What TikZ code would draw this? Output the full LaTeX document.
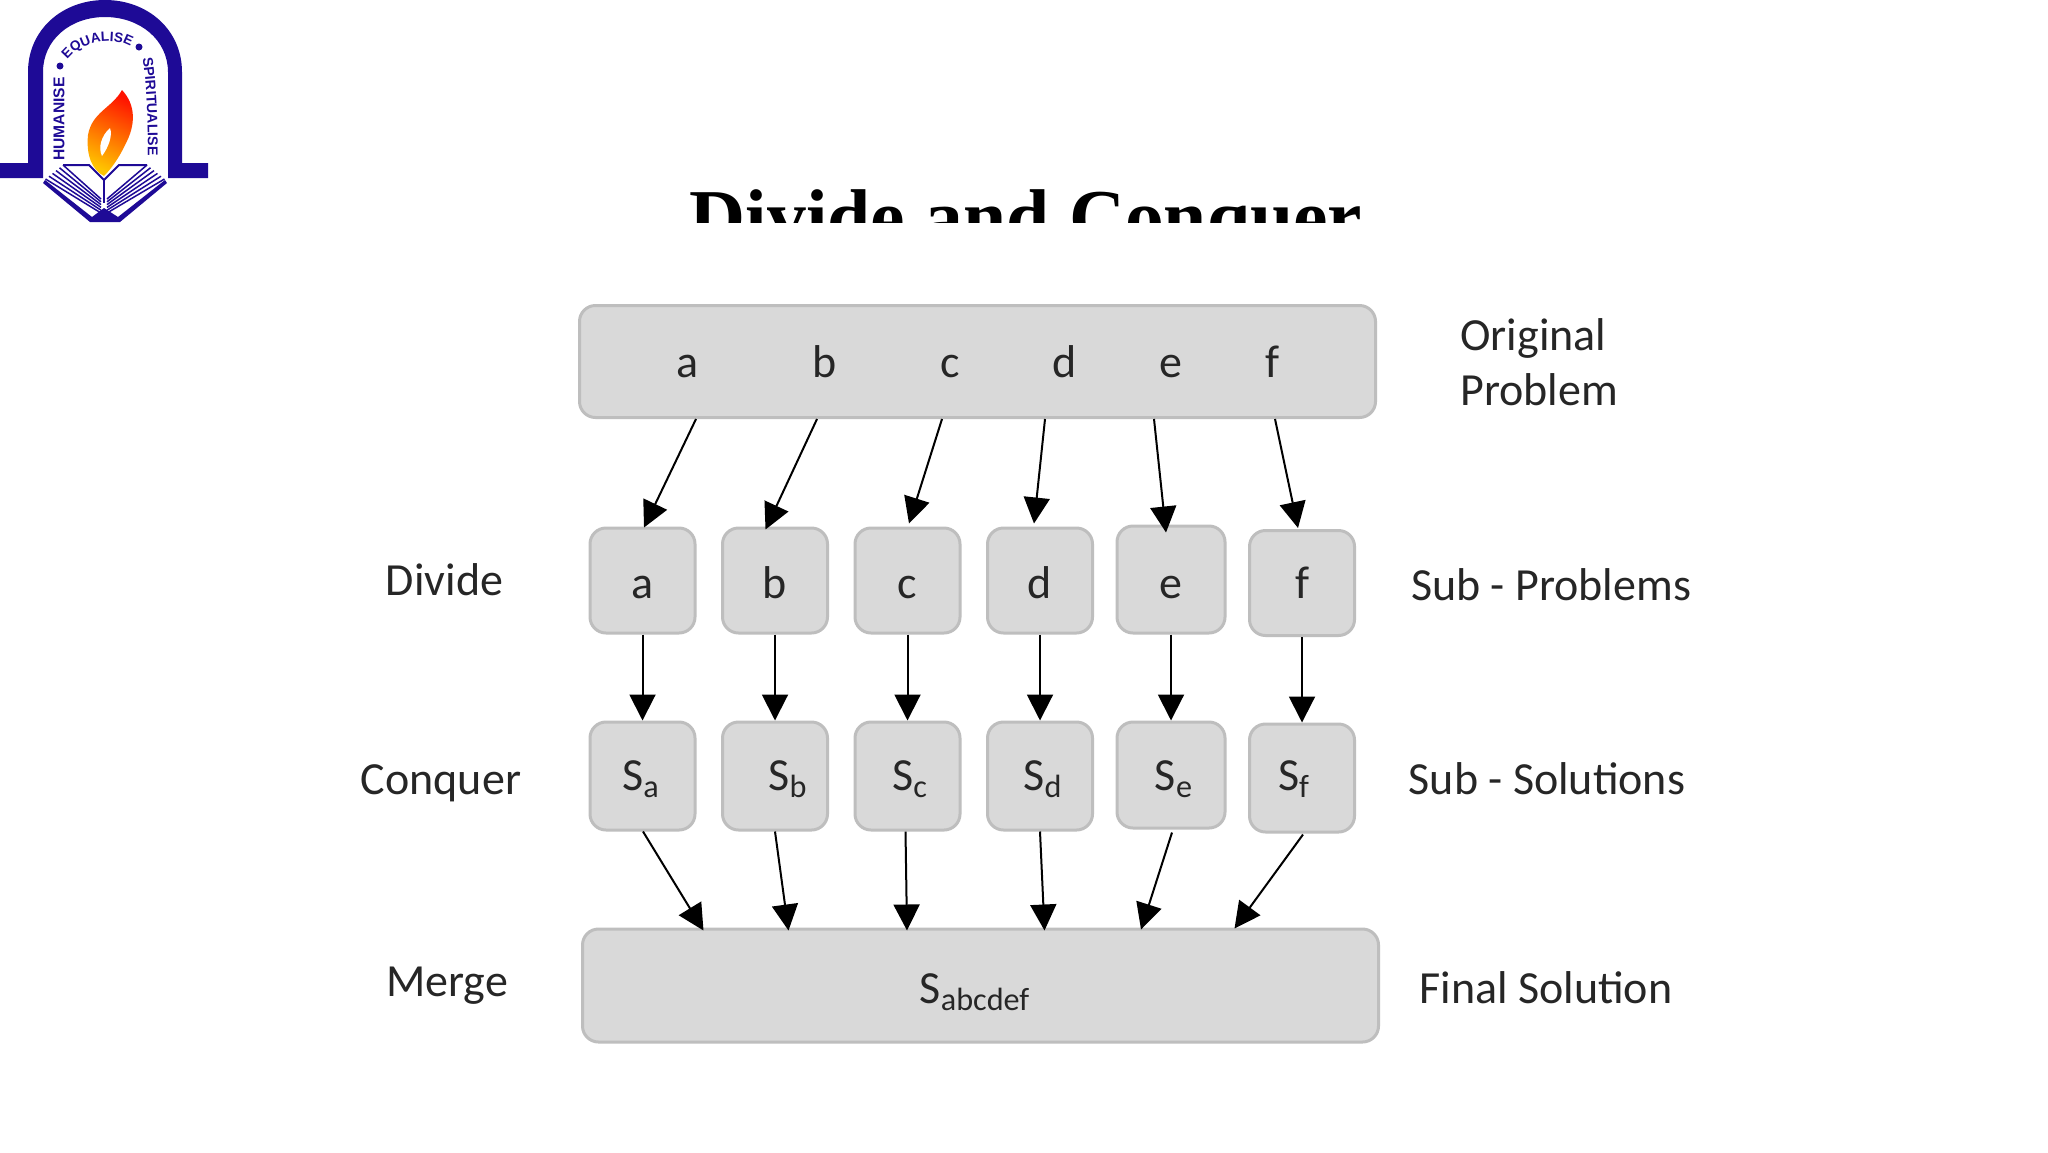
\documentclass[tikz,border=0pt]{standalone}
\usepackage{fontspec}
\setmainfont{Carlito}
\newfontfamily\titlefont{Liberation Serif}
\newfontfamily\logofont{Liberation Sans}
\usetikzlibrary{arrows.meta,calc,decorations.text}
\definecolor{boxfill}{HTML}{D9D9D9}
\definecolor{boxline}{HTML}{BEBEBE}
\definecolor{logoblue}{HTML}{1E0A96}
\tikzset{
  probbox/.style={draw=boxline,fill=boxfill,line width=1.5pt,rounded corners=8pt,inner sep=0pt},
  smallbox/.style={probbox,minimum width=52.5pt,minimum height=52.5pt},
  widebox/.style={probbox,minimum width=398pt,minimum height=56pt},
  letter/.style={font=\fontsize{23}{27}\selectfont,text=black!85,inner sep=0pt,anchor=base},
  caption/.style={font=\fontsize{23}{27}\selectfont,text=black!85,inner sep=0pt,anchor=base},
  conn/.style={draw=black,line width=1pt,-{Triangle[length=13pt,width=13pt]}},
  logoline/.style={draw=logoblue,line width=0.75pt}
}
\begin{document}
\begin{tikzpicture}[x=0.5pt,y=-0.5pt]
\useasboundingbox (0,0) rectangle (2048,1152);
\fill[white] (0,0) rectangle (2048,1152);

% logo
\fill[logoblue] (0,163) -- (28,163) -- (28,72) .. controls (28,30) and (62,0) .. (105,0)
  .. controls (148,0) and (182,30) .. (182,72) -- (182,163) -- (208,163) -- (208,178) -- (168,178)
  -- (168,72) .. controls (168,40) and (140,17) .. (105,17)
  .. controls (70,17) and (43,40) .. (43,72) -- (43,178) -- (0,178) -- cycle;
\node[rotate=90,inner sep=0pt,font=\logofont\bfseries\fontsize{7.8}{8}\selectfont,text=logoblue] (humanise) at (59,119) {HUMANISE};
\path[decorate,decoration={text along path,text align=center,
  text={|\logofont\bfseries\fontsize{6.8}{8}\selectfont\color{logoblue}|EQUALISE}}]
  (67,60) .. controls (78,44) and (110,34) .. (131,47);
\path[decorate,decoration={text along path,text align=center,
  text={|\logofont\bfseries\fontsize{7.1}{8}\selectfont\color{logoblue}|SPIRITUALISE}}]
  (142,56) .. controls (146,75) and (148,110) .. (148,158);
\fill[logoblue] (60,66) circle (3.5) (139,47) circle (3.5);
% flame
\shade[top color=red!85!orange,middle color=orange!85!red,bottom color=yellow!55!orange,shading angle=-25]
  (122,90) .. controls (136,105) and (136,125) .. (125,145)
  .. controls (118,160) and (110,170) .. (104,176)
  .. controls (92,170) and (86,155) .. (88,135)
  .. controls (92,112) and (112,108) .. (122,90) -- cycle;
\fill[white] (110,128) .. controls (113,136) and (108,148) .. (102,156)
  .. controls (98,148) and (101,136) .. (110,128) -- cycle;
% book
\draw[logoline,line width=1pt] (63,165) -- (89,165) -- (104,180) -- (119,165) -- (147,165);
\draw[logoline,line width=1pt] (104,180) -- (104,203);
\foreach \d in {0,3.5,7,10.5,14,17.5}{
  \draw[logoline] (63-\d,165+\d*0.8) -- (101,199+\d*0.8);
  \draw[logoline] (147+\d,165+\d*0.8) -- (107,199+\d*0.8);
}
\fill[logoblue] (43,183) -- (90,222) -- (120,222) -- (167,183) -- (165,180) -- (118,217) -- (104,208) -- (92,217) -- (45,180) -- cycle;

% title
\begin{scope}
\clip (600,150) rectangle (1450,222);
\node[inner sep=0pt,anchor=base,font=\titlefont\bfseries\fontsize{38.8}{44}\selectfont,text=black] (title) at (1026,243) {Divide and Conquer};
\end{scope}

% boxes
\node[widebox] (top) at (977.5,361.5) {};
\node[smallbox] (a1) at (642.5,580.5) {};
\node[smallbox] (b1) at (775,580.5) {};
\node[smallbox] (c1) at (907.5,580.5) {};
\node[smallbox] (d1) at (1040,580.5) {};
\node[smallbox,minimum width=54pt,minimum height=53.5pt] (e1) at (1171,579.5) {};
\node[smallbox] (f1) at (1302,583) {};
\node[smallbox,minimum height=54pt] (a2) at (642.5,776) {};
\node[smallbox,minimum height=54pt] (b2) at (775,776) {};
\node[smallbox,minimum height=54pt] (c2) at (907.5,776) {};
\node[smallbox,minimum height=54pt] (d2) at (1040,776) {};
\node[smallbox,minimum width=54pt,minimum height=53pt] (e2) at (1171,775) {};
\node[smallbox,minimum height=54pt] (f2) at (1302,778) {};
\node[widebox,minimum height=56.5pt] (bottom) at (980.5,985.5) {};

% letters
\foreach \n/\t/\x in {ta/a/688,tb/b/825,tc/c/950,td/d/1065,te/e/1171,tf/f/1272}
  \node[letter] (\n) at (\x,377) {\t};
\foreach \n/\t/\x in {la/a/643,lb/b/775,lc/c/907,ld/d/1040,le/e/1171,lf/f/1302}
  \node[letter] (\n) at (\x,598) {\t};
\foreach \n/\t/\x in {sa/a/641,sb/b/788,sc/c/910,sd/d/1043,se/e/1174,sf/f/1294}
  \node[letter] (\n) at (\x,790) {S\textsubscript{\t}};
\node[letter] (sall) at (975,1003) {S\textsubscript{abcdef}};

% captions
\node[caption,anchor=base west] (orig) at (1460,350) {Original};
\node[caption,anchor=base west] (prob) at (1460,405) {Problem};
\node[caption] (divide) at (444.5,595) {Divide};
\node[caption] (conquer) at (441,794) {Conquer};
\node[caption] (merge) at (447,996) {Merge};
\node[caption] (subp) at (1551,600) {Sub - Problems};
\node[caption] (subs) at (1547,794) {Sub - Solutions};
\node[caption] (final) at (1546,1003) {Final Solution};

% connectors
\draw[conn] ($(top.south)+(-281.5,0)$) -- ($(a1.north)+(1.5,1)$);
\draw[conn] ($(top.south)+(-160.5,0)$) -- ($(b1.north)+(-9.5,3)$);
\draw[conn] ($(top.south)+(-35.5,0)$) -- ($(c1.north)+(1.5,-3)$);
\draw[conn] ($(top.south)+(67.5,0)$) -- ($(d1.north)+(-6,-3)$);
\draw[conn] ($(top.south)+(176.5,0)$) -- ($(e1.north)+(-5,8)$);
\draw[conn] ($(top.south)+(297.5,0)$) -- ($(f1.north)+(-4,-1)$);
\foreach \n in {a,b,c,d,e,f}
  \draw[conn] (\n1.south) -- (\n1.south |- \n2.north);
\draw[conn] ($(a2.south)+(0.5,0)$) -- ($(bottom.north)+(-277,3)$);
\draw[conn] (b2.south) -- ($(bottom.north)+(-192,3)$);
\draw[conn] ($(c2.south)+(-2,0)$) -- ($(bottom.north)+(-73.5,3)$);
\draw[conn] (d2.south) -- ($(bottom.north)+(64,3)$);
\draw[conn] ($(e2.south)+(1,3)$) -- ($(bottom.north)+(160.5,2)$);
\draw[conn] ($(f2.south)+(1,1)$) -- ($(bottom.north)+(254,1)$);
\end{tikzpicture}
\end{document}
